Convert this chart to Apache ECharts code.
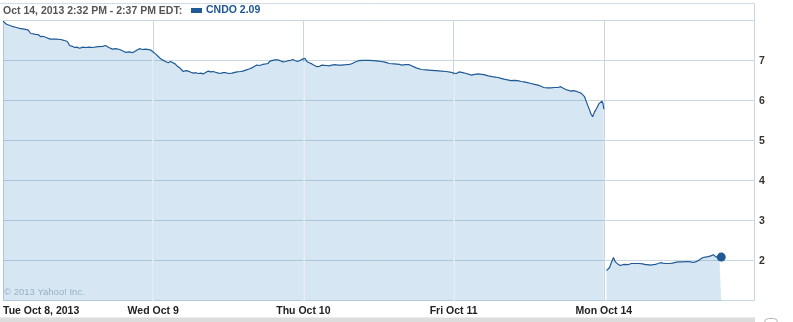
<!DOCTYPE html>
<html>
<head>
<meta charset="utf-8">
<script src="https://cdn.jsdelivr.net/npm/echarts@6/dist/echarts.min.js"></script>
<style>
  html, body { margin: 0; padding: 0; background: #fff; }
  #chart { width: 793px; height: 322px; }
</style>
</head>
<body>
<div id="chart"></div>
<script>
// Day labels for the x axis (one per trading-day start; last tick is the right edge)
const dayLabels = ['Tue Oct 8, 2013', 'Wed Oct 9', 'Thu Oct 10', 'Fri Oct 11', 'Mon Oct 14', ''];
const yTickLabels = [2, 3, 4, 5, 6, 7];
const minutesPerDay = 390; // 9:30 AM - 4:00 PM

// [minutes since 9:30 open, price]
const tue = [[0,7.99],[5,7.96],[9,7.91],[18,7.88],[26,7.85],[35,7.83],[43,7.81],[55,7.79],[65,7.77],[69,7.72],[72,7.68],[85,7.66],[92,7.65],[98,7.60],[104,7.61],[109,7.58],[117,7.56],[124,7.54],[137,7.54],[150,7.53],[158,7.51],[163,7.55],[167,7.48],[173,7.38],[180,7.36],[186,7.33],[192,7.34],[199,7.31],[207,7.34],[215,7.33],[224,7.34],[233,7.33],[246,7.35],[259,7.36],[266,7.38],[275,7.33],[284,7.29],[293,7.30],[303,7.28],[310,7.25],[318,7.21],[327,7.22],[336,7.20],[345,7.25],[354,7.30],[362,7.28],[370,7.29],[383,7.27],[390,7.22]];
const wed = [[0,7.22],[6,7.17],[11,7.12],[18,7.06],[24,7.02],[32,6.98],[39,6.95],[45,6.98],[50,6.99],[57,6.92],[63,6.86],[70,6.81],[78,6.73],[85,6.75],[91,6.74],[98,6.71],[104,6.69],[111,6.70],[117,6.68],[124,6.69],[130,6.67],[137,6.71],[143,6.74],[150,6.72],[156,6.73],[165,6.70],[174,6.68],[181,6.70],[187,6.70],[196,6.68],[205,6.69],[212,6.71],[218,6.72],[226,6.73],[233,6.74],[242,6.77],[251,6.80],[260,6.84],[269,6.89],[277,6.88],[285,6.91],[292,6.92],[298,6.93],[303,6.99],[308,7.02],[316,7.02],[324,7.02],[330,7.00],[337,6.97],[344,6.98],[350,7.00],[357,7.01],[363,7.03],[369,7.00],[375,6.98],[382,7.01],[388,7.04],[390,7.02]];
const thu = [[0,7.02],[4,7.06],[9,6.98],[15,6.95],[22,6.92],[29,6.88],[35,6.85],[42,6.86],[48,6.89],[53,6.90],[60,6.88],[66,6.87],[74,6.89],[81,6.90],[90,6.89],[99,6.89],[110,6.90],[120,6.91],[127,6.93],[133,6.96],[143,7.00],[156,7.01],[169,7.01],[182,7.00],[195,6.99],[202,6.98],[209,6.97],[216,6.95],[223,6.93],[236,6.92],[249,6.91],[255,6.89],[260,6.87],[265,6.90],[270,6.93],[275,6.90],[280,6.88],[293,6.82],[306,6.78],[319,6.77],[332,6.76],[345,6.75],[358,6.74],[371,6.73],[384,6.71],[390,6.69]];
const fri = [[0,6.69],[7,6.68],[14,6.72],[24,6.70],[33,6.68],[40,6.66],[46,6.64],[55,6.66],[64,6.67],[72,6.66],[79,6.65],[90,6.62],[100,6.60],[108,6.59],[115,6.58],[123,6.56],[131,6.54],[140,6.52],[149,6.50],[158,6.51],[167,6.50],[175,6.48],[183,6.47],[192,6.45],[201,6.43],[210,6.41],[219,6.39],[227,6.36],[234,6.33],[243,6.32],[252,6.32],[262,6.33],[271,6.33],[278,6.35],[285,6.31],[291,6.28],[298,6.26],[304,6.24],[311,6.25],[317,6.24],[325,6.21],[331,6.19],[336,6.16],[340,6.10],[343,6.02],[348,5.89],[353,5.77],[357,5.66],[361,5.60],[366,5.72],[371,5.80],[377,5.92],[381,5.96],[385,5.99],[388,5.93],[390,5.79]];
const mon = [[7,1.75],[11,1.78],[15,1.83],[20,1.96],[25,2.08],[30,1.97],[36,1.92],[43,1.88],[49,1.90],[56,1.91],[62,1.90],[67,1.90],[72,1.93],[77,1.97],[82,1.93],[87,1.91],[91,1.93],[95,1.94],[101,1.92],[108,1.90],[114,1.90],[121,1.89],[128,1.90],[134,1.91],[141,1.93],[147,1.95],[153,1.94],[160,1.93],[169,1.93],[178,1.94],[186,1.96],[193,1.97],[205,1.97],[217,1.98],[225,1.97],[232,1.96],[238,1.97],[245,2.00],[251,2.04],[258,2.08],[264,2.09],[271,2.10],[278,2.12],[284,2.15],[289,2.11],[294,2.08],[300,2.09],[305,2.09]];

const ticker = 'CNDO';
const lastPrice = 2.09;
const headerText = 'Oct 14, 2013 2:32 PM - 2:37 PM EDT:';

function shift(day, idx) { return day.map(p => [p[0] + idx * minutesPerDay, p[1]]); }
const weekSeg = [].concat(shift(tue, 0), shift(wed, 1), shift(thu, 2), shift(fri, 3));
const monSeg = shift(mon, 4);
const lastPt = monSeg[monSeg.length - 1];

// light separators inside the fill at day boundaries
const boundaryEnds = [tue, wed, thu].map((d, i) => [(i + 1) * minutesPerDay, d[d.length - 1][1]]);

const gridColor = '#c9d7e1';
const lineColor = '#1f5a96';
const fillColor = 'rgba(52,130,190,0.2)';
const font = 'Liberation Sans, Arial, sans-serif';

const chart = echarts.init(document.getElementById('chart'), null, { renderer: 'canvas' });
chart.setOption({
  animation: false,
  grid: { left: 0, right: 39, top: 20.7, bottom: 21.3, containLabel: false },
  legend: {
    data: [ticker], left: 191, top: 5, padding: 0,
    icon: 'rect', itemWidth: 11, itemHeight: 5, itemGap: 4,
    formatter: name => name + ' ' + lastPrice.toFixed(2),
    textStyle: { color: '#1d5592', fontWeight: 'bold', fontSize: 10.5, fontFamily: font, padding: [0, 0, 0, -1] }
  },
  xAxis: {
    type: 'value', min: 0, max: 5 * minutesPerDay, interval: minutesPerDay,
    axisLine: { show: false }, axisTick: { show: false },
    axisLabel: {
      formatter: v => dayLabels[Math.round(v / minutesPerDay)] || '',
      alignMinLabel: 'left', color: '#222', fontWeight: 'bold', fontSize: 10.5, fontFamily: font, margin: 5
    },
    splitLine: { show: true, lineStyle: { color: gridColor, width: 1 } }
  },
  yAxis: {
    type: 'value', position: 'right', min: 1, max: 8, interval: 1,
    axisLine: { show: true, lineStyle: { color: gridColor } }, axisTick: { show: false },
    axisLabel: {
      formatter: v => yTickLabels.indexOf(v) >= 0 ? String(v) : '',
      color: '#333', fontWeight: 'bold', fontSize: 10.5, fontFamily: font, margin: 5
    },
    splitLine: { show: true, lineStyle: { color: gridColor, width: 1 } }
  },
  series: [
    {
      name: ticker, type: 'line', data: weekSeg, showSymbol: false, symbol: 'none',
      lineStyle: { color: lineColor, width: 1.2 }, itemStyle: { color: lineColor },
      areaStyle: { color: fillColor, origin: 'start', opacity: 1 },
      markLine: {
        silent: true, symbol: 'none', label: { show: false },
        lineStyle: { color: '#e9f1f7', width: 1.6, type: 'solid', opacity: 1 },
        data: boundaryEnds.map(b => [{ coord: [b[0], 1] }, { coord: [b[0], b[1] - 0.05] }])
      }
    },
    {
      name: ticker, type: 'line', data: monSeg, showSymbol: false, symbol: 'none',
      lineStyle: { color: lineColor, width: 1.2 }, itemStyle: { color: lineColor },
      areaStyle: { color: fillColor, origin: 'start', opacity: 1 }
    },
    {
      type: 'scatter', data: [lastPt], symbolSize: 9, itemStyle: { color: lineColor, opacity: 1 }, z: 5
    }
  ],
  graphic: [
    { type: 'text', left: 3, top: 6, style: { text: headerText, fill: '#555', font: 'bold 10.5px ' + font } },
    { type: 'line', shape: { x1: 0, y1: 3.5, x2: 754.5, y2: 3.5 }, style: { stroke: '#d3dde5', lineWidth: 1 } },
    { type: 'line', shape: { x1: 754.5, y1: 3.5, x2: 754.5, y2: 21 }, style: { stroke: gridColor, lineWidth: 1 } },
    { type: 'text', left: 4, top: 287, style: { text: '\u00a9 2013 Yahoo! Inc.', fill: '#aebdc9', font: '9.5px ' + font } },
    { type: 'rect', shape: { x: 0, y: 317.5, width: 755, height: 5 }, style: { fill: '#dcdcdc' } },
    { type: 'rect', shape: { x: 764.5, y: 318.5, width: 13, height: 10, r: 4 }, style: { fill: '#fff', stroke: '#b5b5b5', lineWidth: 1 } }
  ]
});
</script>
</body>
</html>
